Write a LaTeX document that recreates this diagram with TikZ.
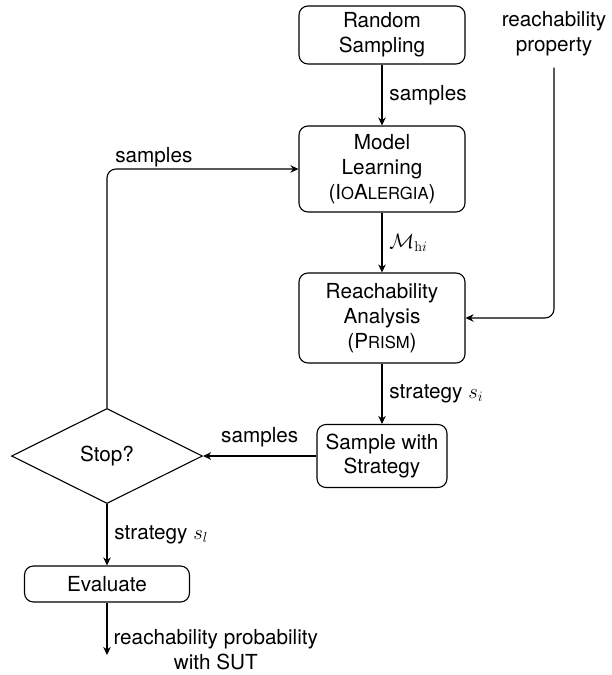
\documentclass[tikz,border=0pt]{standalone}
\usepackage[no-math]{fontspec}
\setmainfont{TeX Gyre Heros}
\usetikzlibrary{shapes.geometric,arrows.meta}

% small capitals built from a reduced upright size
\newcommand\fakesc[1]{{\fontsize{16.6}{20}\selectfont #1}}

\begin{document}
\begin{tikzpicture}[x=1pt,y=-1pt,
  every node/.style={font=\fontsize{20.7}{24.8}\selectfont},
  box/.style={draw, rounded corners=9pt, line width=1.1pt, align=center, inner sep=0pt},
  decision/.style={draw, diamond, line width=1.1pt, inner sep=0pt},
  flow/.style={line width=1.1pt, -{Stealth[length=8pt,width=7.5pt,inset=2.5pt]}},
  lab/.style={inner sep=6.9pt}
]
\useasboundingbox (0,0) rectangle (611,675);

% process steps
\node[box, minimum width=166pt, minimum height=58pt] (rs) at (382,35) {Random\\Sampling};
\node[box, minimum width=166pt, minimum height=86pt] (ml) at (382,169)
  {Model\\Learning\\(I\fakesc{O}A\fakesc{LERGIA})};
\node[box, minimum width=166pt, minimum height=90pt] (ra) at (382,318)
  {Reachability\\Analysis\\(P\fakesc{RISM})};
\node[box, minimum width=130pt, minimum height=63pt] (sws) at (382,456) {Sample with\\Strategy};
\node[decision, minimum width=191pt, minimum height=95pt] (stop) at (107,456) {Stop?};
\node[box, minimum width=165pt, minimum height=36pt] (ev) at (107,584) {Evaluate};

% external input and final output
\node[align=center, inner sep=0pt, outer sep=12pt] (prop) at (554,33.5) {reachability\\property};
\coordinate (out) at (107,655);

% connectors
\draw[flow] (rs) -- node[lab, right] {samples} (ml);
\draw[flow] (ml) -- node[lab, right] {$\mathcal{M}_{\mathrm{h}i}$} (ra);
\draw[flow] (ra) -- node[lab, right] {strategy $s_i$} (sws);
\draw[flow, rounded corners=9pt] (prop.south) |- (ra.east);
\draw[flow] (sws) -- node[lab, above, yshift=1.5pt] {samples} (stop);
\draw[flow, rounded corners=9pt] (stop.north) |-
  node[pos=0.5, anchor=south west, inner sep=1.7pt, xshift=6pt] {samples} (ml.west);
\draw[flow] (stop) -- node[lab, right] {strategy $s_l$} (ev);
\draw[flow] (ev) -- node[pos=0.9, anchor=west, inner sep=6pt, align=center]
  {reachability probability\\with SUT} (out);
\end{tikzpicture}
\end{document}
